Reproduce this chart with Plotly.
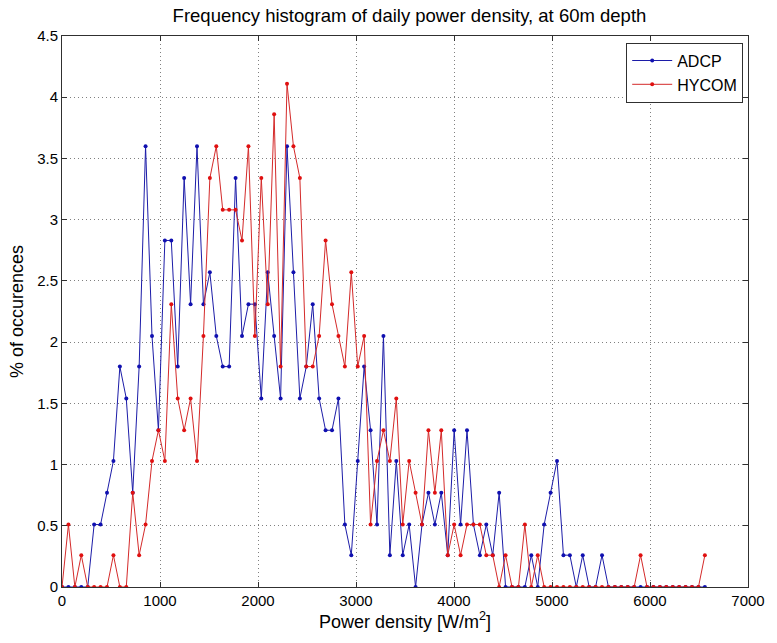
import numpy as np
import plotly.graph_objects as go

# Bin centres of the histogram (W/m^2)
bin_start = 0
bin_end = 6560
n_bins = 101
power_density = np.linspace(bin_start, bin_end, n_bins)

adcp = [
    0, 0, 0, 0, 0, 0.51, 0.51, 0.77, 1.03, 1.80,
    1.54, 0.77, 1.80, 3.60, 2.05, 1.28, 2.83, 2.83, 1.80, 3.34,
    2.31, 3.60, 2.31, 2.57, 2.05, 1.80, 1.80, 3.34, 2.05, 2.31,
    2.31, 1.54, 2.57, 2.05, 1.54, 3.60, 2.57, 1.54, 1.80, 2.31,
    1.54, 1.28, 1.28, 1.54, 0.51, 0.26, 1.03, 1.80, 1.28, 0.51,
    2.05, 0.26, 1.03, 0.26, 0.51, 0, 0.51, 0.77, 0.51, 0.77,
    0.26, 1.28, 0.51, 1.28, 0.51, 0.26, 0.51, 0.26, 0.77, 0,
    0, 0, 0, 0.26, 0, 0.51, 0.77, 1.03, 0.26, 0.26,
    0, 0.26, 0, 0, 0.26, 0, 0, 0, 0, 0,
    0, 0, 0, 0, 0, 0, 0, 0, 0, 0,
    0,
]

hycom = [
    0, 0.51, 0, 0.26, 0, 0, 0, 0, 0.26, 0,
    0, 0.77, 0.26, 0.51, 1.03, 1.28, 1.03, 2.31, 1.54, 1.28,
    1.54, 1.03, 2.05, 3.34, 3.60, 3.08, 3.08, 3.08, 2.83, 3.60,
    2.05, 3.34, 2.31, 3.86, 1.80, 4.11, 3.60, 3.34, 1.80, 1.80,
    2.05, 2.83, 2.31, 2.05, 1.80, 2.57, 1.80, 2.05, 0.51, 1.03,
    1.28, 1.03, 1.54, 0.51, 1.03, 0.77, 0.51, 1.28, 0.77, 1.28,
    0.26, 0.51, 0.26, 0.51, 0.51, 0.51, 0.26, 0.26, 0, 0.26,
    0, 0, 0.51, 0, 0.26, 0, 0, 0, 0, 0,
    0, 0, 0, 0, 0, 0, 0, 0, 0, 0,
    0.26, 0, 0, 0, 0, 0, 0, 0, 0, 0,
    0.26,
]

x_ticks = [0, 1000, 2000, 3000, 4000, 5000, 6000, 7000]
y_ticks = [0, 0.5, 1, 1.5, 2, 2.5, 3, 3.5, 4, 4.5]
y_tick_text = ["0", "0.5", "1", "1.5", "2", "2.5", "3", "3.5", "4", "4.5"]

FONT = "Liberation Sans, Arial, sans-serif"

fig = go.Figure()
fig.add_trace(go.Scatter(
    x=power_density, y=adcp, name="ADCP", mode="lines+markers",
    line=dict(color="#1c1ca8", width=1),
    marker=dict(color="#1010b0", size=4),
))
fig.add_trace(go.Scatter(
    x=power_density, y=hycom, name="HYCOM", mode="lines+markers",
    line=dict(color="#d42a2a", width=1),
    marker=dict(color="#e01010", size=4),
))

axis_common = dict(
    showline=True, linecolor="#303030", linewidth=1, mirror="ticks",
    ticks="inside", ticklen=5, tickcolor="#303030",
    showgrid=True, gridcolor="#808080", griddash="1px,3px", gridwidth=1,
    zeroline=False,
    tickfont=dict(family=FONT, size=15, color="black"),
)

fig.update_layout(
    width=777, height=643,
    margin=dict(l=62, r=20, t=36, b=56),
    paper_bgcolor="white", plot_bgcolor="white",
    font=dict(family=FONT, color="black"),
    title=dict(
        text="Frequency histogram of daily power density, at 60m depth",
        x=0.527, xanchor="center", y=1 - 16 / 643, yanchor="middle",
        yref="container",
        font=dict(family=FONT, size=18.5, color="black"),
    ),
    xaxis=dict(
        range=[0, 7000], tickvals=x_ticks,
        title=dict(text="Power density [W/m<sup>2</sup>]",
                   font=dict(family=FONT, size=18, color="black"), standoff=4),
        **axis_common,
    ),
    yaxis=dict(
        range=[0, 4.5], tickvals=y_ticks, ticktext=y_tick_text,
        title=dict(text="% of occurences",
                   font=dict(family=FONT, size=18, color="black"), standoff=8),
        **axis_common,
    ),
    legend=dict(
        x=0.993, y=0.988, xanchor="right", yanchor="top",
        bgcolor="white", bordercolor="#303030", borderwidth=1,
        font=dict(family=FONT, size=16, color="black"),
        itemwidth=40, tracegroupgap=0,
    ),
    showlegend=True,
)

fig.write_html("out.html")
